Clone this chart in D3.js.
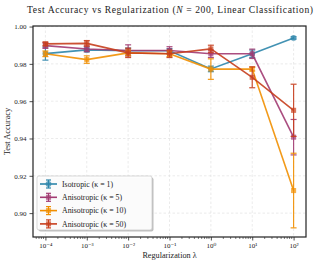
<!DOCTYPE html>
<html>
<head>
<script src="https://d3js.org/d3.v7.min.js"></script>
<style>
  body { margin: 0; background: #fff; }
  text { font-family: "Liberation Serif", "DejaVu Serif", serif; fill: #222; }
</style>
</head>
<body>
<div id="chart"></div>
<script>
var lambdas = [1e-4, 1e-3, 1e-2, 1e-1, 1, 10, 100];
var seriesNames = ["Isotropic (\u03BA = 1)", "Anisotropic (\u03BA = 5)", "Anisotropic (\u03BA = 10)", "Anisotropic (\u03BA = 50)"];
var seriesColors = ["#2E86AB", "#A23B72", "#F18F01", "#C73E1D"];
var seriesMarkers = ["circle", "square", "square", "square"];
var isoMean = [0.9855, 0.9875, 0.9870, 0.9870, 0.9773, 0.9854, 0.9939];
var isoErr  = [0.0035, 0.0010, 0.0015, 0.0012, 0.0015, 0.0020, 0.0006];
var k5Mean  = [0.9898, 0.9880, 0.9872, 0.9872, 0.9854, 0.9854, 0.9407];
var k5Err   = [0.0015, 0.0015, 0.0030, 0.0020, 0.0020, 0.0025, 0.0095];
var k10Mean = [0.9854, 0.9823, 0.9859, 0.9854, 0.9772, 0.9772, 0.9121];
var k10Err  = [0.0015, 0.0020, 0.0015, 0.0015, 0.0055, 0.0010, 0.0200];
var k50Mean = [0.9907, 0.9910, 0.9859, 0.9854, 0.9880, 0.9728, 0.9551];
var k50Err  = [0.0010, 0.0015, 0.0025, 0.0020, 0.0020, 0.0056, 0.0140];
var yTicks = [0.90, 0.92, 0.94, 0.96, 0.98, 1.00];
var xTicks = [-4, -3, -2, -1, 0, 1, 2];

var means = [isoMean, k5Mean, k10Mean, k50Mean];
var errs = [isoErr, k5Err, k10Err, k50Err];

var W = 319, H = 264;
var m = {left: 33, right: 13, top: 26, bottom: 27};

var svg = d3.select("#chart").append("svg").attr("width", W).attr("height", H);

var x = d3.scaleLog().domain([Math.pow(10, -4.3), Math.pow(10, 2.3)]).range([m.left, W - m.right]);
var y = d3.scaleLinear().domain([0.8872, 1.0003]).range([H - m.bottom, m.top]);

var supers = {"-": "\u207B", "0": "\u2070", "1": "\u00B9", "2": "\u00B2", "3": "\u00B3", "4": "\u2074"};

// grid
var grid = svg.append("g");
grid.selectAll(".gx").data(xTicks).enter().append("line")
  .attr("x1", d => x(Math.pow(10, d))).attr("x2", d => x(Math.pow(10, d)))
  .attr("y1", m.top).attr("y2", H - m.bottom)
  .attr("stroke", "#ddd").attr("stroke-width", 0.6).attr("stroke-dasharray", "2.5,2");
grid.selectAll(".gy").data(yTicks).enter().append("line")
  .attr("x1", m.left).attr("x2", W - m.right)
  .attr("y1", d => y(d)).attr("y2", d => y(d))
  .attr("stroke", "#ddd").attr("stroke-width", 0.6).attr("stroke-dasharray", "2.5,2");

// axes
var minor = [];
for (var e = -5; e <= 2; e++) for (var k = 2; k <= 9; k++) {
  var v = k * Math.pow(10, e);
  if (v > x.domain()[0] && v < x.domain()[1]) minor.push(v);
}
var xAxis = svg.append("g").attr("transform", "translate(0," + (H - m.bottom) + ")")
  .call(d3.axisBottom(x).tickValues(xTicks.map(d => Math.pow(10, d))).tickSize(3.5).tickPadding(3)
    .tickFormat(d => "10" + String(Math.round(Math.log10(d))).split("").map(c => supers[c]).join("")));
xAxis.append("g").selectAll("line").data(minor).enter().append("line")
  .attr("x1", d => x(d)).attr("x2", d => x(d)).attr("y1", 0).attr("y2", 2)
  .attr("stroke", "#222").attr("stroke-width", 0.6);
var yAxis = svg.append("g").attr("transform", "translate(" + m.left + ",0)")
  .call(d3.axisLeft(y).tickValues(yTicks).tickSize(3.5).tickPadding(3).tickFormat(d3.format(".2f")));
[xAxis, yAxis].forEach(function(a) {
  a.select(".domain").remove();
  a.selectAll(".tick line").attr("stroke", "#222").attr("stroke-width", 0.8);
  a.selectAll("text").attr("font-size", 7).attr("fill", "#333");
});

// series
seriesNames.forEach(function(name, i) {
  var c = seriesColors[i];
  var g = svg.append("g");
  var pts = lambdas.map((l, j) => ({x: l, y: means[i][j], e: errs[i][j]}));
  g.append("path").datum(pts)
    .attr("fill", "none").attr("stroke", c).attr("stroke-width", 1.6).attr("opacity", 0.9)
    .attr("d", d3.line().x(d => x(d.x)).y(d => y(d.y)));
  var eb = g.selectAll(".eb").data(pts).enter().append("g").attr("opacity", 0.9);
  eb.append("line").attr("x1", d => x(d.x)).attr("x2", d => x(d.x))
    .attr("y1", d => y(d.y - d.e)).attr("y2", d => y(d.y + d.e))
    .attr("stroke", c).attr("stroke-width", 1.2);
  [-1, 1].forEach(function(s) {
    eb.append("line").attr("x1", d => x(d.x) - 3).attr("x2", d => x(d.x) + 3)
      .attr("y1", d => y(d.y + s * d.e)).attr("y2", d => y(d.y + s * d.e))
      .attr("stroke", c).attr("stroke-width", 1.2);
  });
  var sym = d3.symbol().type(seriesMarkers[i] === "circle" ? d3.symbolCircle : d3.symbolSquare).size(26);
  g.selectAll(".mk").data(pts).enter().append("path")
    .attr("d", sym).attr("transform", d => "translate(" + x(d.x) + "," + y(d.y) + ")")
    .attr("fill", c).attr("opacity", 0.7);
});

// frame
svg.append("rect").attr("x", m.left).attr("y", m.top)
  .attr("width", W - m.left - m.right).attr("height", H - m.top - m.bottom)
  .attr("fill", "none").attr("stroke", "#222").attr("stroke-width", 1.2);

// legend
var lg = svg.append("g").attr("transform", "translate(37,176)");
lg.append("rect").attr("x", 1.5).attr("y", 1.5).attr("width", 115).attr("height", 54).attr("rx", 2)
  .attr("fill", "#000").attr("opacity", 0.25);
lg.append("rect").attr("width", 115).attr("height", 54).attr("rx", 2)
  .attr("fill", "#fff").attr("stroke", "#ccc").attr("stroke-width", 0.8).attr("opacity", 0.95);
seriesNames.forEach(function(name, i) {
  var c = seriesColors[i];
  var yy = 8 + i * 13.3;
  var row = lg.append("g").attr("transform", "translate(0," + yy + ")");
  row.append("line").attr("x1", 3).attr("x2", 20).attr("stroke", c).attr("stroke-width", 1.6);
  row.append("line").attr("x1", 11.5).attr("x2", 11.5).attr("y1", -4).attr("y2", 4).attr("stroke", c).attr("stroke-width", 1.2);
  row.append("line").attr("x1", 9).attr("x2", 14).attr("y1", -4).attr("y2", -4).attr("stroke", c).attr("stroke-width", 1.2);
  row.append("line").attr("x1", 9).attr("x2", 14).attr("y1", 4).attr("y2", 4).attr("stroke", c).attr("stroke-width", 1.2);
  var sym = d3.symbol().type(seriesMarkers[i] === "circle" ? d3.symbolCircle : d3.symbolSquare).size(26);
  row.append("path").attr("d", sym).attr("transform", "translate(11.5,0)").attr("fill", c).attr("opacity", 0.7);
  row.append("text").attr("x", 25).attr("y", 0).attr("dy", "0.35em").attr("font-size", 7.8).text(name);
});

// labels
var title = svg.append("text").attr("x", 170).attr("y", 13).attr("text-anchor", "middle")
  .attr("font-size", 9.6).attr("textLength", 286).attr("lengthAdjust", "spacing");
title.append("tspan").text("Test Accuracy vs Regularization (");
title.append("tspan").attr("font-style", "italic").text("N");
title.append("tspan").text(" = 200, Linear Classification)");
svg.append("text").attr("x", (m.left + W - m.right) / 2).attr("y", 258).attr("text-anchor", "middle")
  .attr("font-size", 8.2).text("Regularization \u03BB");
svg.append("text").attr("transform", "translate(10," + ((m.top + H - m.bottom) / 2) + ") rotate(-90)")
  .attr("text-anchor", "middle").attr("font-size", 8.4).text("Test Accuracy");
</script>
</body>
</html>
